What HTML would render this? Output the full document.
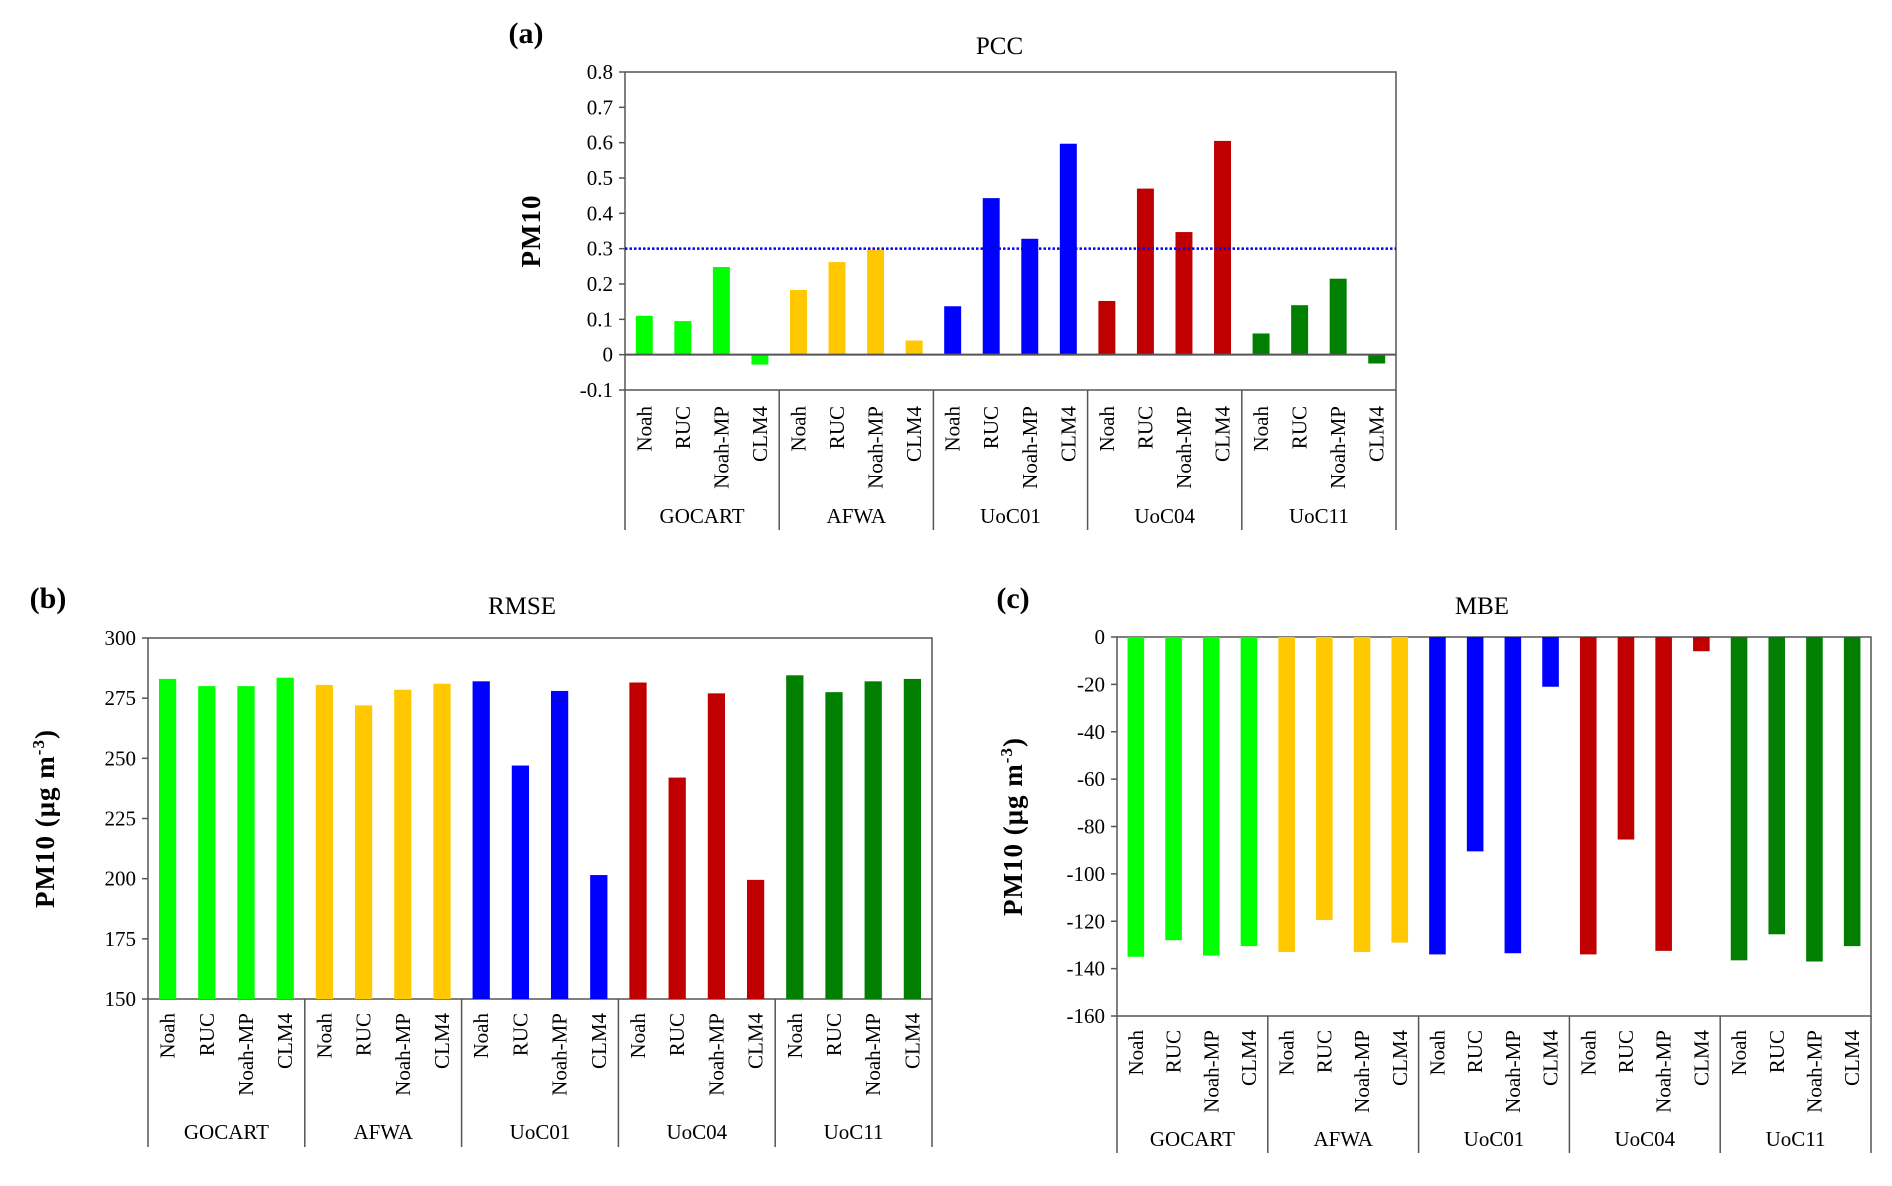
<!DOCTYPE html>
<html><head><meta charset="utf-8"><style>
html,body{margin:0;padding:0;background:#fff}
svg{display:block;font-family:"Liberation Serif",serif}
</style></head><body>
<svg id="fig" width="1892" height="1186" viewBox="0 0 1892 1186" xmlns="http://www.w3.org/2000/svg"></svg>
<script>
const groups = ["GOCART","AFWA","UoC01","UoC04","UoC11"];
const models = ["Noah","RUC","Noah-MP","CLM4"];
const groupColors = ["#00ff00","#ffc800","#0000ff","#c00000","#007f00"];
const pccValues = [0.11,0.095,0.248,-0.028, 0.183,0.262,0.297,0.04, 0.137,0.443,0.328,0.597, 0.152,0.47,0.347,0.605, 0.06,0.14,0.215,-0.025];
const rmseValues = [283,280,280,283.5, 280.5,272,278.5,281, 282,247,278,201.5, 281.5,242,277,199.5, 284.5,277.5,282,283];
const mbeValues = [-135,-128,-134.5,-130.5, -133,-119.5,-133,-129, -134,-90.5,-133.5,-21, -134,-85.5,-132.5,-6, -136.5,-125.5,-137,-130.5];
const pccTicks = [-0.1,0,0.1,0.2,0.3,0.4,0.5,0.6,0.7,0.8];
const pccTickLabels = ["-0.1","0","0.1","0.2","0.3","0.4","0.5","0.6","0.7","0.8"];
const rmseTicks = [150,175,200,225,250,275,300];
const mbeTicks = [-160,-140,-120,-100,-80,-60,-40,-20,0];
const pccThreshold = 0.3;

const NS="http://www.w3.org/2000/svg";
const svg=document.getElementById('fig');
function mk(tag,attrs,parent){const e=document.createElementNS(NS,tag);for(const k in attrs)e.setAttribute(k,attrs[k]);(parent||svg).appendChild(e);return e;}

function chart(cfg){
  const g=mk('g',{});
  
  
  const {x0,x1,yTop,yBot,vmin,vmax}=cfg;
  const y=v=>yBot-(v-vmin)/(vmax-vmin)*(yBot-yTop);
  const n=cfg.values.length, slot=(x1-x0)/n, bw=slot*0.44;
  const xc=i=>x0+slot*(i+0.5);
  const pl=mk('text',{x:cfg.letterX,y:cfg.letterY,'font-size':30,'font-weight':'bold','text-anchor':'middle'},g);
  pl.textContent=cfg.letter;
  
  
  const t=mk('text',{x:(x0+x1)/2+cfg.titleDx,y:cfg.titleY,'font-size':25,'text-anchor':'middle'},g);
  t.textContent=cfg.title;
  
  
  const yt=mk('text',{x:0,y:0,'font-size':27,'font-weight':'bold','text-anchor':'middle',transform:`translate(${cfg.ytX},${(yTop+yBot)/2}) rotate(-90)`,'letter-spacing':'1'},g);
  
  
  if(cfg.units){yt.innerHTML='PM10 (μg m<tspan dy="-10" font-size="17">-3</tspan><tspan dy="10">)</tspan>';}
  else yt.textContent='PM10';
  mk('rect',{x:x0,y:yTop,width:x1-x0,height:yBot-yTop,fill:'none',stroke:'#555','stroke-width':1.5},g);
  cfg.values.forEach((v,i)=>{
    const base=y(cfg.base), yy=y(v);
    const b=mk('rect',{x:xc(i)-bw/2,y:Math.min(base,yy),width:bw,height:Math.abs(base-yy),fill:groupColors[Math.floor(i/4)]},g);
    
    
  });
  if(cfg.zeroLine){mk('line',{x1:x0,x2:x1,y1:y(0),y2:y(0),stroke:'#555','stroke-width':2},g);}
  if(cfg.threshold!==undefined){
    const l=mk('line',{x1:x0,x2:x1,y1:y(cfg.threshold),y2:y(cfg.threshold),stroke:'#0000ff','stroke-width':2.5,'stroke-dasharray':'2.5,2'},g);
    
    
  }
  cfg.ticks.forEach((v,i)=>{
    mk('line',{x1:x0-6,x2:x0,y1:y(v),y2:y(v),stroke:'#555','stroke-width':1.5},g);
    const tl=mk('text',{x:x0-12,y:y(v)+7,'font-size':21,'text-anchor':'end'},g);
    tl.textContent=cfg.tickLabels?cfg.tickLabels[i]:String(v);
    
    
  });
  cfg.values.forEach((v,i)=>{
    const c=mk('text',{x:0,y:0,'font-size':21,'text-anchor':'end',transform:`translate(${xc(i)+7},${yBot+cfg.labOff}) rotate(-90)`},g);
    c.textContent=models[i%4];
    
    
  });
  for(let k=0;k<=groups.length;k++){
    const xx=x0+slot*4*k;
    mk('line',{x1:xx,x2:xx,y1:yBot,y2:cfg.divBot,stroke:'#555','stroke-width':1.5},g);
  }
  groups.forEach((gn,k)=>{
    const gl=mk('text',{x:x0+slot*4*(k+0.5),y:cfg.groupY,'font-size':21,'text-anchor':'middle'},g);
    gl.textContent=gn;
    
    
  });
}

chart({name:'pcc-chart',letter:'(a)',letterX:526,letterY:43,title:'PCC',titleY:54,titleDx:-11,ytX:540,units:false,
  x0:625,x1:1396,yTop:72,yBot:390,vmin:-0.1,vmax:0.8,base:0,values:pccValues,ticks:pccTicks,tickLabels:pccTickLabels,
  zeroLine:true,threshold:pccThreshold,labOff:16,divBot:530,groupY:523});
chart({name:'rmse-chart',letter:'(b)',letterX:48,letterY:608,title:'RMSE',titleY:614,titleDx:-18,ytX:54,units:true,
  x0:148,x1:932,yTop:638,yBot:999,vmin:150,vmax:300,base:150,values:rmseValues,ticks:rmseTicks,
  labOff:14,divBot:1147,groupY:1139});
chart({name:'mbe-chart',letter:'(c)',letterX:1013,letterY:608,title:'MBE',titleY:614,titleDx:-12,ytX:1022,units:true,
  x0:1117,x1:1871,yTop:637,yBot:1016,vmin:-160,vmax:0,base:0,values:mbeValues,ticks:mbeTicks,
  labOff:14,divBot:1153,groupY:1146});
</script>
</body></html>
